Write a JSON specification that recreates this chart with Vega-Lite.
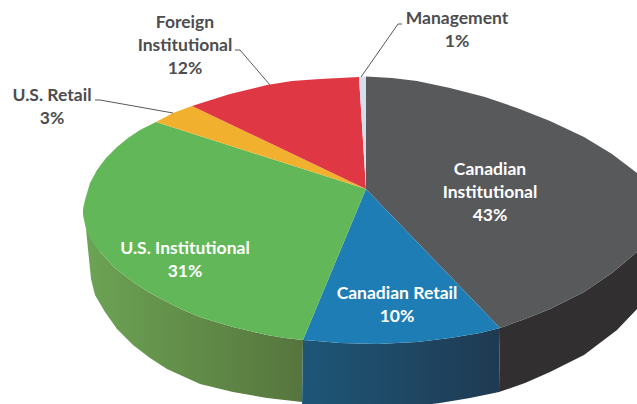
{"$schema":"https://vega.github.io/schema/vega-lite/v6.json","width":637,"height":404,"padding":0,"autosize":"none","background":"white","view":{"stroke":null},"projection":{"type":"identity","scale":1,"translate":[0,0]},"datasets":{"walls":[{"name":"Green wall","shape":{"type":"Polygon","coordinates":[[[86,229],[100,252],[115,268],[133,282],[150,293],[167,302],[183,310],[200,317],[216,322],[233,327],[250,331],[267,335],[285,338],[303,340],[302,402],[267,398],[233,392],[200,384],[167,369],[150,358],[133,345],[117,329],[105,312],[95,295],[91,279],[86,229]]]}},{"name":"Blue wall","shape":{"type":"Polygon","coordinates":[[[303,340],[317,341],[340,343],[377,344],[417,342],[450,338],[480,333],[500,328],[499,392],[470,398],[440,403],[400,408],[302,408],[303,340]]]}},{"name":"Dark wall","shape":{"type":"Polygon","coordinates":[[[500,328],[525,319],[550,309],[584,292],[612,273],[637,252],[650,225],[650,290],[637,309],[617,330],[584,355],[550,372],[525,383],[499,392],[500,328]]]}}],"slices":[{"name":"Canadian Institutional","value":43,"shape":{"type":"Polygon","coordinates":[[[366,189],[366,76.5],[392,78],[417,81],[450,88],[485,97],[517,108],[550,121],[584,137],[612,154],[637,173],[650,205],[650,225],[637,252],[612,273],[584,292],[550,309],[525,319],[500,328],[366,189]]]}},{"name":"Canadian Retail","value":10,"shape":{"type":"Polygon","coordinates":[[[366,189],[500,328],[480,333],[450,338],[417,342],[377,344],[340,343],[317,341],[303,340],[366,189]]]}},{"name":"U.S. Institutional","value":31,"shape":{"type":"Polygon","coordinates":[[[366,189],[303,340],[285,338],[267,335],[250,331],[233,327],[216,322],[200,317],[183,310],[167,302],[150,293],[133,282],[115,268],[100,252],[91,240],[86,229],[83,215],[83,209],[85,200],[90,183],[97,170],[106,158],[117,147],[128,138],[140,130],[156,122],[366,189]]]}},{"name":"U.S. Retail","value":3,"shape":{"type":"Polygon","coordinates":[[[366,189],[156,122],[173,113],[192,106],[366,189]]]}},{"name":"Foreign Institutional","value":12,"shape":{"type":"Polygon","coordinates":[[[366,189],[192,106],[230,94],[267,85],[292,81],[320,79],[359,77],[366,189]]]}},{"name":"Management","value":1,"shape":{"type":"Polygon","coordinates":[[[366,189],[359,77],[366,76.5],[366,189]]]}}],"leaders":[{"name":"Foreign Institutional","shape":{"type":"LineString","coordinates":[[235,50],[240,50],[270,85]]}},{"name":"U.S. Retail","shape":{"type":"LineString","coordinates":[[95,100],[100,100],[173,113]]}},{"name":"Management","shape":{"type":"LineString","coordinates":[[402,24],[398,24],[361,77]]}}],"darkLabels":[{"label":"Foreign\nInstitutional\n12%","lon":185,"lat":28},{"label":"U.S. Retail\n3%","lon":52,"lat":101},{"label":"Management\n1%","lon":457,"lat":24}],"lightLabels":[{"label":"Canadian\nInstitutional\n43%","lon":490,"lat":175},{"label":"U.S. Institutional\n31%","lon":185,"lat":254},{"label":"Canadian Retail\n10%","lon":397,"lat":299}]},"layer":[{"data":{"name":"walls"},"transform":[{"filter":"datum.name==='Green wall'"}],"mark":{"type":"geoshape","strokeWidth":0,"fill":{"gradient":"linear","x1":0,"y1":0,"x2":1,"y2":0,"stops":[{"offset":0,"color":"#6CA354"},{"offset":1,"color":"#56753D"}]}},"encoding":{"shape":{"field":"shape","type":"geojson"}}},{"data":{"name":"walls"},"transform":[{"filter":"datum.name==='Blue wall'"}],"mark":{"type":"geoshape","strokeWidth":0,"fill":{"gradient":"linear","x1":0,"y1":0,"x2":1,"y2":0,"stops":[{"offset":0,"color":"#1E5677"},{"offset":1,"color":"#1F3A52"}]}},"encoding":{"shape":{"field":"shape","type":"geojson"}}},{"data":{"name":"walls"},"transform":[{"filter":"datum.name==='Dark wall'"}],"mark":{"type":"geoshape","strokeWidth":0,"fill":"#312F30"},"encoding":{"shape":{"field":"shape","type":"geojson"}}},{"data":{"name":"slices"},"mark":{"type":"geoshape","strokeWidth":0},"encoding":{"shape":{"field":"shape","type":"geojson"},"color":{"field":"name","type":"nominal","legend":null,"scale":{"domain":["Canadian Institutional","Canadian Retail","U.S. Institutional","U.S. Retail","Foreign Institutional","Management"],"range":["#58595B","#1F7DB5","#62B858","#F2B02F","#E03744","#D5DFEC"]}}}},{"data":{"name":"leaders"},"mark":{"type":"geoshape","filled":false,"stroke":"#58595B","strokeWidth":1},"encoding":{"shape":{"field":"shape","type":"geojson"}}},{"data":{"name":"darkLabels"},"mark":{"type":"text","font":"Lato","fontWeight":"bold","fontSize":17.5,"lineBreak":"\n","lineHeight":23,"align":"center","baseline":"alphabetic","color":"#4D4D4F"},"encoding":{"longitude":{"field":"lon","type":"quantitative"},"latitude":{"field":"lat","type":"quantitative"},"text":{"field":"label"}}},{"data":{"name":"lightLabels"},"mark":{"type":"text","font":"Lato","fontWeight":"bold","fontSize":17.5,"lineBreak":"\n","lineHeight":23,"align":"center","baseline":"alphabetic","color":"#FFFFFF"},"encoding":{"longitude":{"field":"lon","type":"quantitative"},"latitude":{"field":"lat","type":"quantitative"},"text":{"field":"label"}}}]}
